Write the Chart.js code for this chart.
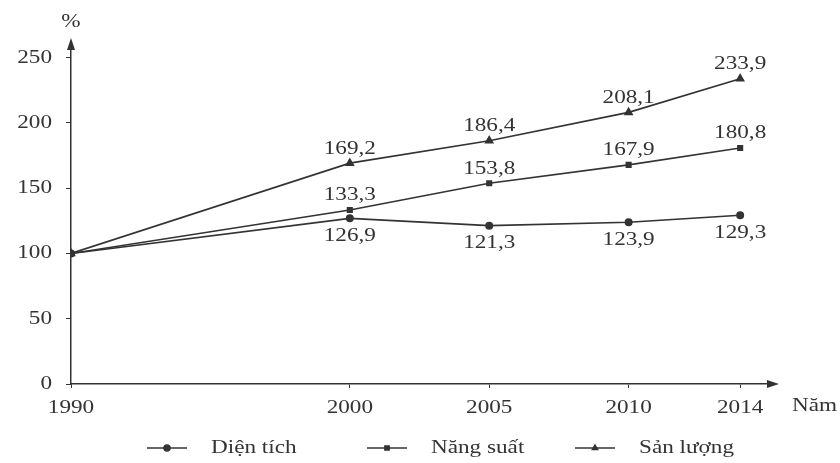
<!DOCTYPE html>
<html>
<head>
<meta charset="utf-8">
<script src="https://cdn.jsdelivr.net/npm/chart.js@4"></script>
<style>
  body { margin: 0; background: #fff; }
  .chart-box { width: 840px; height: 463px; }
</style>
</head>
<body>
<div class="chart-box"><canvas id="growth-chart"></canvas></div>
<script>
// Data
const years = [1990, 2000, 2005, 2010, 2014];
const dienTich = [100, 126.9, 121.3, 123.9, 129.3];
const nangSuat = [100, 133.3, 153.8, 167.9, 180.8];
const sanLuong = [100, 169.2, 186.4, 208.1, 233.9];
const yTicks = [0, 50, 100, 150, 200, 250];
const seriesNames = ["Diện tích", "Năng suất", "Sản lượng"];

const ink = "#333";
const fontFamily = "'Liberation Serif', 'DejaVu Serif', serif";
const stretch = 1.22;

const toPoints = (values) => values.map((v, i) => ({ x: years[i], y: v }));

// chữ hơi giãn ngang giống bản in
const drawText = (ctx, text, x, y, align, baseline) => {
  ctx.save();
  ctx.translate(x, y);
  ctx.scale(stretch, 1);
  ctx.textAlign = align;
  ctx.textBaseline = baseline;
  ctx.fillText(text, 0, 0);
  ctx.restore();
};

// Nhãn trục, số liệu, mũi tên, chú giải
const decorPlugin = {
  id: "decor",
  afterDatasetsDraw(chart) {
    const ctx = chart.ctx;
    const area = chart.chartArea;
    const xScale = chart.scales.x;
    const yScale = chart.scales.y;
    ctx.save();
    ctx.fillStyle = ink;
    ctx.strokeStyle = ink;
    ctx.font = `19px ${fontFamily}`;

    // tick labels
    yTicks.forEach((v) => {
      drawText(ctx, String(v), 52, yScale.getPixelForValue(v), "right", "middle");
    });
    years.forEach((y) => {
      drawText(ctx, String(y), xScale.getPixelForValue(y), 408, "center", "middle");
    });

    // data labels
    chart.data.datasets.forEach((ds, di) => {
      const meta = chart.getDatasetMeta(di);
      meta.data.forEach((pt, i) => {
        if (i === 0) return;
        const text = ds.data[i].y.toFixed(1).replace(".", ",");
        if (ds.labelPos === "below") {
          drawText(ctx, text, pt.x, pt.y + 8, "center", "top");
        } else {
          drawText(ctx, text, pt.x, pt.y - 5, "center", "bottom");
        }
      });
    });

    // arrows
    ctx.beginPath();
    ctx.moveTo(area.left, area.top - 4);
    ctx.lineTo(area.left - 4, area.top + 8);
    ctx.lineTo(area.left + 4, area.top + 8);
    ctx.closePath();
    ctx.fill();
    ctx.beginPath();
    ctx.moveTo(area.right + 4, area.bottom);
    ctx.lineTo(area.right - 8, area.bottom - 4);
    ctx.lineTo(area.right - 8, area.bottom + 4);
    ctx.closePath();
    ctx.fill();

    // axis titles
    drawText(ctx, "%", area.left, 22, "center", "middle");
    drawText(ctx, "Năm", 792, 406, "left", "middle");

    // legend
    const legendX = [147, 367, 575];
    const legendY = 448;
    chart.data.datasets.forEach((ds, di) => {
      const x = legendX[di];
      ctx.lineWidth = 1.5;
      ctx.beginPath();
      ctx.moveTo(x, legendY);
      ctx.lineTo(x + 40, legendY);
      ctx.stroke();
      Chart.helpers.drawPoint(ctx, { pointStyle: ds.pointStyle, radius: 3, rotation: 0, borderWidth: 1 }, x + 20, legendY);
      drawText(ctx, seriesNames[di], x + 64, legendY, "left", "middle");
    });
    ctx.restore();
  },
};

const chartElement = document.querySelector("#growth-chart");
if (chartElement) {
  const makeSet = (label, values, style, labelPos) => ({
    label: label,
    data: toPoints(values),
    borderColor: ink,
    backgroundColor: ink,
    borderWidth: 1.6,
    pointStyle: style,
    pointRadius: style === "triangle" ? 4 : 3.2,
    pointBackgroundColor: ink,
    pointBorderColor: ink,
    labelPos: labelPos,
  });

  new Chart(chartElement, {
    type: "line",
    data: {
      datasets: [
        makeSet(seriesNames[0], dienTich, "circle", "below"),
        makeSet(seriesNames[1], nangSuat, "rect", "above"),
        makeSet(seriesNames[2], sanLuong, "triangle", "above"),
      ],
    },
    options: {
      responsive: true,
      maintainAspectRatio: false,
      animation: false,
      layout: { padding: { top: 42, right: 65, left: 0, bottom: 0 } },
      plugins: {
        legend: { display: false },
        tooltip: { enabled: false },
      },
      scales: {
        x: {
          type: "linear",
          min: 1990,
          max: 2015.25,
          afterBuildTicks: (scale) => {
            scale.ticks = years.map((y) => ({ value: y }));
          },
          afterFit: (scale) => {
            scale.height = 79;
          },
          border: { display: true, color: ink, width: 1.5 },
          grid: { drawOnChartArea: false, color: ink, tickLength: 4, tickColor: ink },
          ticks: { display: false },
        },
        y: {
          min: 0,
          max: 262,
          afterBuildTicks: (scale) => {
            scale.ticks = yTicks.map((v) => ({ value: v }));
          },
          afterFit: (scale) => {
            scale.width = 71;
          },
          border: { display: true, color: ink, width: 1.5 },
          grid: { drawOnChartArea: false, color: ink, tickLength: 5, tickColor: ink },
          ticks: { display: false },
        },
      },
    },
    plugins: [decorPlugin],
  });
}
</script>
</body>
</html>
